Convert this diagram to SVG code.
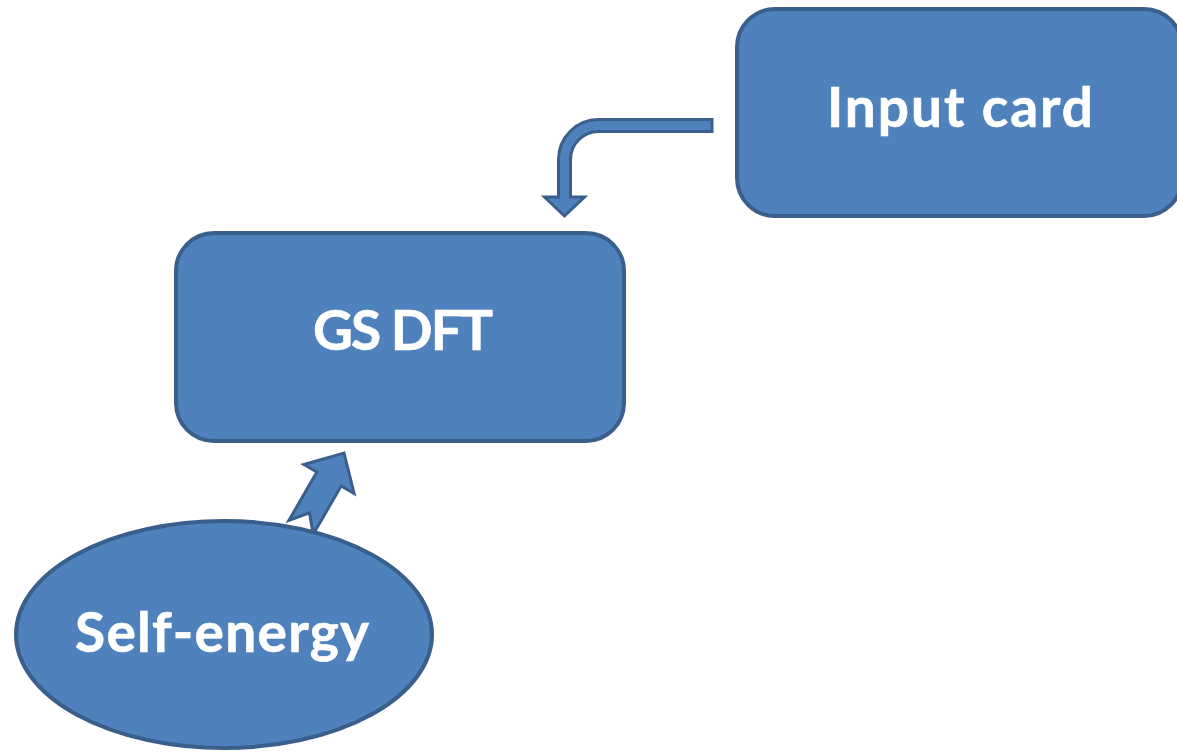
<svg xmlns="http://www.w3.org/2000/svg" width="1177" height="752" viewBox="0 0 1177 752">
  <style>
    .shape { fill: #4f81bd; stroke: #3a5f8c; stroke-width: 4; }
    .arrow { fill: #4f81bd; stroke: #3a5f8c; stroke-width: 3; stroke-linejoin: miter; }
    .label { fill: #ffffff; stroke: #ffffff; stroke-width: 0.6; font-family: Lato, "Open Sans", "Liberation Sans", sans-serif; font-weight: bold; font-size: 55px; text-anchor: middle; }
  </style>
  <rect width="1177" height="752" fill="#ffffff"/>

  <!-- connectors -->
  <g id="connectors">
    <!-- bent arrow: Input card to GS DFT -->
    <path class="arrow" d="M 712 119.5 L 598.5 119.5 A 40 40 0 0 0 558.5 159.5 L 558.5 197 L 544.5 197 L 564.5 216 L 584.5 197 L 570.5 197 L 570.5 159.5 A 28 28 0 0 1 598.5 131.5 L 712 131.5 Z"/>
    <!-- notched arrow: Self-energy to GS DFT -->
    <polygon class="arrow" transform="translate(344,453) rotate(30)" points="0,0 29,30 14,30 14,86 0,69 -14,86 -14,30 -29,30"/>
  </g>

  <g id="node-input-card">
    <rect class="shape" x="737" y="9" width="445" height="207" rx="38" ry="38"/>
    <text class="label" x="960" y="127" textLength="266" lengthAdjust="spacing">Input card</text>
  </g>

  <g id="node-gs-dft">
    <rect class="shape" x="176" y="233" width="448" height="208" rx="38" ry="38"/>
    <text class="label" x="403" y="350" textLength="180" lengthAdjust="spacing">GS DFT</text>
  </g>

  <g id="node-self-energy">
    <ellipse class="shape" cx="224" cy="634.5" rx="208" ry="113.5"/>
    <text class="label" x="222" y="652" textLength="294" lengthAdjust="spacing">Self-energy</text>
  </g>
</svg>
